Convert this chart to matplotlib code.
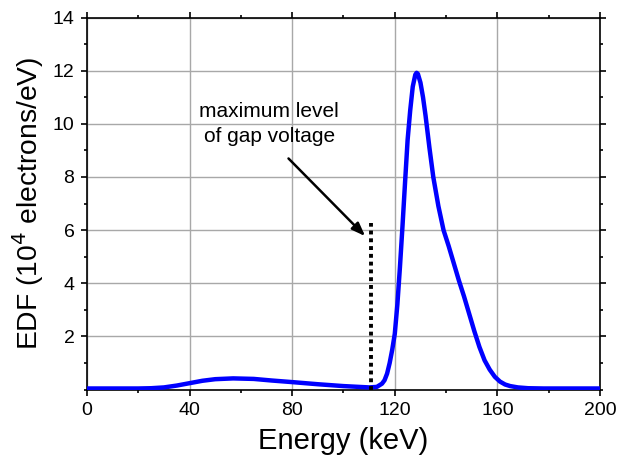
import matplotlib.pyplot as plt
from matplotlib.ticker import MultipleLocator

plt.rcParams['font.family'] = ['Liberation Sans', 'DejaVu Sans']

# EDF (energy in keV, EDF in 1e4 electrons/eV)
energy = [0, 10, 20, 25, 30, 35, 40, 45, 50, 57, 65, 72, 80, 90, 100, 106, 110,
          113, 115, 116, 117, 118, 119, 120, 121, 122, 123, 124, 125, 126, 127,
          128, 128.5, 129, 130, 131, 132, 133.5, 135, 137, 139, 141, 143, 145,
          147, 149, 151, 153, 155, 157, 159, 161, 163, 165, 168, 172, 178, 190,
          200]
edf = [0.04, 0.04, 0.04, 0.05, 0.08, 0.15, 0.24, 0.33, 0.39, 0.42, 0.40, 0.34,
       0.28, 0.20, 0.13, 0.10, 0.08, 0.10, 0.22, 0.35, 0.60, 1.00, 1.50, 2.10,
       3.20, 4.60, 6.15, 7.80, 9.40, 10.50, 11.40, 11.85, 11.92, 11.88, 11.55,
       11.00, 10.30, 9.10, 8.00, 6.90, 6.00, 5.40, 4.75, 4.10, 3.50, 2.85, 2.20,
       1.60, 1.10, 0.75, 0.48, 0.30, 0.19, 0.13, 0.08, 0.05, 0.04, 0.04, 0.04]

gap_energy = 110.6
gap_top = 6.25

fig = plt.figure(figsize=(6.29, 4.61), dpi=100)
ax = fig.add_axes([0.1383, 0.155, 0.8156, 0.807])

ax.plot(energy, edf, color='#0000ff', lw=3.2, solid_joinstyle='round',
        solid_capstyle='round', zorder=3)
ax.plot([gap_energy, gap_energy], [0, gap_top], color='black', lw=2.8,
        linestyle=(0, (1, 1)), zorder=3)

ax.annotate('', xy=(109.2, 5.7), xytext=(77.8, 8.77),
            arrowprops=dict(arrowstyle='-|>,head_length=0.8,head_width=0.3',
                            color='black', lw=1.8))
ax.text(71, 10.0, 'maximum level\nof gap voltage', ha='center', va='center',
        fontsize=15, linespacing=1.4)

ax.set_xlim(0, 200)
ax.set_ylim(0, 14)
ax.set_xticks([0, 40, 80, 120, 160, 200])
ax.set_yticks([2, 4, 6, 8, 10, 12, 14])
ax.xaxis.set_minor_locator(MultipleLocator(20))
ax.yaxis.set_minor_locator(MultipleLocator(1))
ax.tick_params(which='both', direction='out', top=True, right=True,
               labelsize=14, width=1.2, color='black')
ax.tick_params(which='major', length=4, pad=5)
ax.tick_params(which='minor', length=2)
ax.grid(True, which='major', color='#a8a8a8', lw=1)
for s in ax.spines.values():
    s.set_linewidth(1.2)

ax.set_xlabel('Energy (keV)', fontsize=21, labelpad=6)
ax.set_ylabel('EDF (10$^4$ electrons/eV)', fontsize=20.3, labelpad=5)

plt.savefig('out.png', dpi=100)
